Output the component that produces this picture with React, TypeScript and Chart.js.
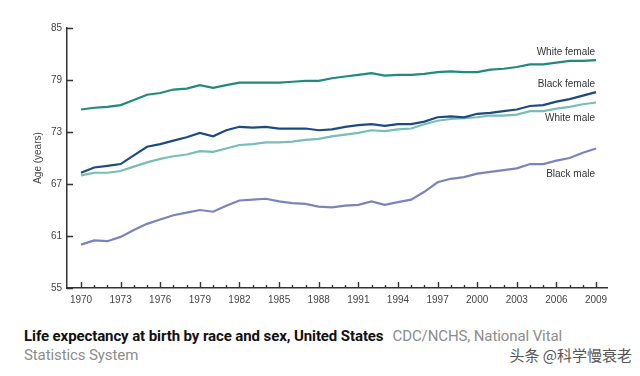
import React, { useEffect, useRef } from 'react';
import { Chart, registerables } from 'chart.js';

Chart.register(...registerables);

const years = [
  1970, 1971, 1972, 1973, 1974, 1975, 1976, 1977, 1978, 1979,
  1980, 1981, 1982, 1983, 1984, 1985, 1986, 1987, 1988, 1989,
  1990, 1991, 1992, 1993, 1994, 1995, 1996, 1997, 1998, 1999,
  2000, 2001, 2002, 2003, 2004, 2005, 2006, 2007, 2008, 2009,
];

const yTickValues = [55, 61, 67, 73, 79, 85];

const whiteFemale = [
  75.6, 75.8, 75.9, 76.1, 76.7, 77.3, 77.5, 77.9, 78.0, 78.4,
  78.1, 78.4, 78.7, 78.7, 78.7, 78.7, 78.8, 78.9, 78.9, 79.2,
  79.4, 79.6, 79.8, 79.5, 79.6, 79.6, 79.7, 79.9, 80.0, 79.9,
  79.9, 80.2, 80.3, 80.5, 80.8, 80.8, 81.0, 81.2, 81.2, 81.3,
];

const blackFemale = [
  68.3, 68.9, 69.1, 69.3, 70.3, 71.3, 71.6, 72.0, 72.4, 72.9,
  72.5, 73.2, 73.6, 73.5, 73.6, 73.4, 73.4, 73.4, 73.2, 73.3,
  73.6, 73.8, 73.9, 73.7, 73.9, 73.9, 74.2, 74.7, 74.8, 74.7,
  75.1, 75.2, 75.4, 75.6, 76.0, 76.1, 76.5, 76.8, 77.2, 77.6,
];

const whiteMale = [
  68.0, 68.3, 68.3, 68.5, 69.0, 69.5, 69.9, 70.2, 70.4, 70.8,
  70.7, 71.1, 71.5, 71.6, 71.8, 71.8, 71.9, 72.1, 72.2, 72.5,
  72.7, 72.9, 73.2, 73.1, 73.3, 73.4, 73.9, 74.3, 74.5, 74.6,
  74.7, 74.9, 74.9, 75.0, 75.4, 75.4, 75.7, 75.9, 76.2, 76.4,
];

const blackMale = [
  60.0, 60.5, 60.4, 60.9, 61.7, 62.4, 62.9, 63.4, 63.7, 64.0,
  63.8, 64.5, 65.1, 65.2, 65.3, 65.0, 64.8, 64.7, 64.4, 64.3,
  64.5, 64.6, 65.0, 64.6, 64.9, 65.2, 66.1, 67.2, 67.6, 67.8,
  68.2, 68.4, 68.6, 68.8, 69.3, 69.3, 69.7, 70.0, 70.6, 71.1,
];

const seriesNames = ['White female', 'Black female', 'White male', 'Black male'];
const seriesValues = [whiteFemale, blackFemale, whiteMale, blackMale];
const seriesColors = ['#1f8a7d', '#1d4a82', '#78bdb6', '#7a84ba'];
const labelOffsets = [-8, -8, 16, 26];

const AXIS_COLOR = '#333333';
const TEXT_COLOR = '#444444';
const TICK_FONT = { family: '"Liberation Sans", Arial, sans-serif', size: 10 };

const overlayPlugin = {
  id: 'overlayPlugin',
  afterDraw(chart: any) {
    const { ctx, chartArea, scales } = chart;
    const xs = scales.x;
    const ys = scales.y;
    ctx.save();
    ctx.strokeStyle = AXIS_COLOR;
    ctx.lineWidth = 1.4;
    ctx.beginPath();
    years.forEach((yr) => {
      const px = Math.round(xs.getPixelForValue(yr)) + 0.5;
      const len = (yr - 1970) % 3 === 0 ? 6 : 3;
      ctx.moveTo(px, chartArea.bottom);
      ctx.lineTo(px, chartArea.bottom - len);
    });
    yTickValues.forEach((v) => {
      const py = Math.round(ys.getPixelForValue(v)) + 0.5;
      ctx.moveTo(chartArea.left, py);
      ctx.lineTo(chartArea.left + 6, py);
    });
    ctx.stroke();

    ctx.fillStyle = '#333333';
    ctx.font = '10px "Liberation Sans", Arial, sans-serif';
    ctx.textAlign = 'right';
    ctx.textBaseline = 'middle';
    seriesNames.forEach((name, i) => {
      const meta = chart.getDatasetMeta(i);
      const last = meta.data[meta.data.length - 1];
      ctx.fillText(name, last.x - 1, last.y + labelOffsets[i]);
    });
    ctx.restore();
  },
};

export default function App() {
  const canvasRef = useRef<HTMLCanvasElement>(null);

  useEffect(() => {
    const canvas = canvasRef.current;
    if (!canvas) return;
    const chart = new Chart(canvas, {
      type: 'line',
      data: {
        datasets: seriesNames.map((name, i) => ({
          label: name,
          data: years.map((yr, j) => ({ x: yr, y: seriesValues[i][j] })),
          borderColor: seriesColors[i],
          backgroundColor: seriesColors[i],
          borderWidth: 2.2,
          pointRadius: 0,
          tension: 0,
          fill: false,
        })),
      },
      options: {
        animation: false,
        responsive: false,
        devicePixelRatio: 1,
        layout: { padding: { left: 0, top: 28, right: 33, bottom: 0 } },
        plugins: {
          legend: { display: false },
          tooltip: { enabled: false },
        },
        scales: {
          x: {
            type: 'linear',
            min: 1968.94,
            max: 2009.83,
            grid: { display: false, drawTicks: false },
            border: { display: true, color: AXIS_COLOR, width: 1.5 },
            afterBuildTicks: (scale: any) => {
              scale.ticks = years.map((v) => ({ value: v }));
            },
            afterFit: (scale: any) => {
              scale.height = 32;
            },
            ticks: {
              autoSkip: false,
              maxRotation: 0,
              minRotation: 0,
              padding: 6,
              color: TEXT_COLOR,
              font: TICK_FONT,
              callback: (v: any) => ((Number(v) - 1970) % 3 === 0 ? String(v) : ''),
            },
          },
          y: {
            type: 'linear',
            min: 55,
            max: 85,
            grid: { display: false, drawTicks: false },
            border: { display: true, color: AXIS_COLOR, width: 1.5 },
            afterBuildTicks: (scale: any) => {
              scale.ticks = yTickValues.map((v) => ({ value: v }));
            },
            afterFit: (scale: any) => {
              scale.width = 67;
            },
            ticks: {
              padding: 5,
              color: TEXT_COLOR,
              font: TICK_FONT,
            },
            title: {
              display: true,
              text: 'Age (years)',
              color: TEXT_COLOR,
              font: { family: '"Liberation Sans", Arial, sans-serif', size: 10 },
              padding: { top: 32, bottom: 0 },
            },
          },
        },
      },
      plugins: [overlayPlugin],
    } as any);
    return () => chart.destroy();
  }, []);

  return (
    <div
      style={{
        position: 'absolute',
        left: 0,
        top: 0,
        width: 640,
        height: 376,
        background: '#ffffff',
        overflow: 'hidden',
      }}
    >
      <canvas ref={canvasRef} width={640} height={320} style={{ display: 'block' }} />
      <div
        style={{
          position: 'absolute',
          left: 24,
          top: 327,
          fontFamily: 'Roboto, "Liberation Sans", sans-serif',
          fontSize: 15,
          lineHeight: '19px',
          letterSpacing: '-0.1px',
          color: '#8c8c8c',
          whiteSpace: 'nowrap',
        }}
      >
        <span style={{ fontWeight: 700, color: '#111111' }}>
          Life expectancy at birth by race and sex, United States
        </span>
        <span style={{ marginLeft: 9 }}>CDC/NCHS, National Vital</span>
        <br />
        <span>Statistics System</span>
      </div>
      <div
        style={{
          position: 'absolute',
          right: 8,
          top: 345,
          fontFamily: '"Noto Sans CJK SC", sans-serif',
          fontSize: 15,
          lineHeight: '20px',
          color: '#555555',
          whiteSpace: 'nowrap',
        }}
      >
        头条 @科学慢衰老
      </div>
    </div>
  );
}
